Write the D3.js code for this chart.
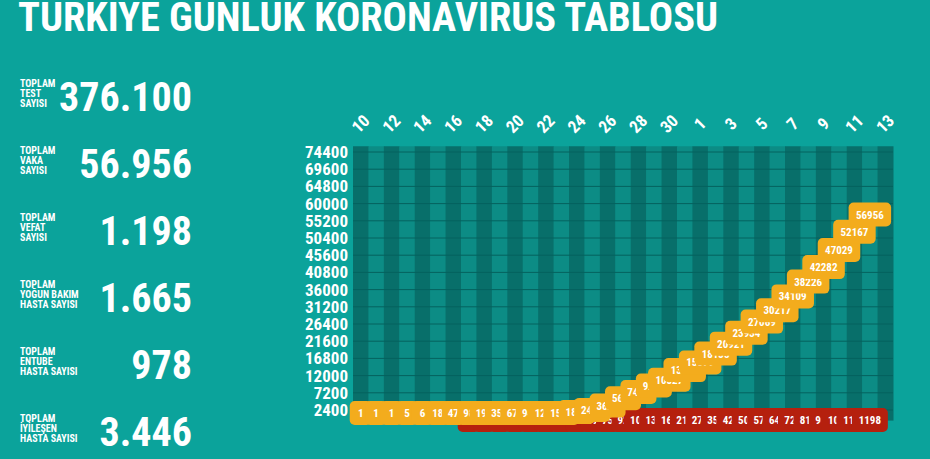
<!DOCTYPE html>
<html><head><meta charset="utf-8">
<script src="https://d3js.org/d3.v7.min.js"></script>
<style>
body{margin:0;background:#0ba39b;overflow:hidden}
text{font-family:"Liberation Sans Narrow","Roboto Condensed","DejaVu Sans Condensed",sans-serif;font-weight:bold;fill:#fff}
</style></head><body>
<svg id="c" width="930" height="459"></svg>
<script>
const dates = ["10","11","12","13","14","15","16","17","18","19","20","21","22","23","24","25","26","27","28","29","30","31","1","2","3","4","5","6","7","8","9","10","11","12","13"];
const cases = [1,1,1,5,6,18,47,98,191,359,670,947,1236,1529,1872,2433,3629,5698,7402,9217,10827,13531,15679,18135,20921,23934,27069,30217,34109,38226,42282,47029,52167,56956];
const deaths = [null,null,null,null,null,null,null,1,2,4,9,21,30,37,44,59,75,92,108,131,168,214,277,356,425,501,574,649,725,812,908,1006,1101,1198];
const yTicks = [2400,7200,12000,16800,21600,26400,31200,36000,40800,45600,50400,55200,60000,64800,69600,74400];
const statLabels = [["TOPLAM","TEST","SAYISI"],["TOPLAM","VAKA","SAYISI"],["TOPLAM","VEFAT","SAYISI"],["TOPLAM","YOĞUN BAKIM","HASTA SAYISI"],["TOPLAM","ENTUBE","HASTA SAYISI"],["TOPLAM","İYİLEŞEN","HASTA SAYISI"]];
const statValues = ["376.100","56.956","1.198","1.665","978","3.446"];

const svg = d3.select("#c");

// title
svg.append("text").attr("x",18).attr("y",31).attr("font-size",40).attr("textLength",700).attr("lengthAdjust","spacingAndGlyphs")
  .text("TURKIYE GUNLUK KORONAVIRUS TABLOSU");

// left stats
statValues.forEach((v,i)=>{
  const cy = 97 + i*67;
  svg.append("text").attr("x",192).attr("y",cy+14).attr("text-anchor","end").attr("font-size",40).text(v);
  statLabels[i].forEach((l,j)=>{
    svg.append("text").attr("x",20).attr("y",cy-10+j*10).attr("font-size",10).attr("font-weight","normal").text(l);
  });
});

// chart
const x = d3.scaleBand().domain(d3.range(dates.length)).range([353,893]);
const y = d3.scaleLinear().domain([0,74400]).range([418.6,152]);
const g = svg.append("g");
g.selectAll("rect.col").data(d3.range(dates.length)).join("rect")
  .attr("x",i=>x(i)).attr("width",x.bandwidth()+0.5).attr("y",y(76000)).attr("height",y(0)-y(76000)+2)
  .attr("fill",i=>i%2?"#0c8c85":"#086f6a");
g.selectAll("line.h").data(yTicks).join("line")
  .attr("x1",353).attr("x2",893).attr("y1",d=>y(d)).attr("y2",d=>y(d)).attr("stroke","#05625e").attr("stroke-width",1);
g.selectAll("text.yl").data(yTicks).join("text").attr("x",348).attr("y",d=>y(d)+6)
  .attr("text-anchor","end").attr("font-size",17).text(d=>d);
g.selectAll("text.xl").data(d3.range(0,dates.length,2)).join("text")
  .attr("transform",i=>`translate(${x(i)+x.bandwidth()/2+4},128) rotate(-45)`)
  .attr("text-anchor","middle").attr("font-size",17).text(i=>dates[i]);

function series(data, color, yfn){
  const pts = data.map((v,i)=>({v,i})).filter(d=>d.v!==null);
  const cx = d=>x(d.i)+x.bandwidth()/2;
  const w = d=>Math.max(22,10+6.5*String(d.v).length);
  g.append("path").datum(pts).attr("fill","none").attr("stroke",color).attr("stroke-width",16)
    .attr("stroke-linejoin","round").attr("d",d3.line().x(cx).y(yfn));
  const m = g.selectAll(null).data(pts).join("g");
  m.append("rect").attr("x",d=>cx(d)-w(d)/2).attr("y",d=>yfn(d)-12).attr("width",w).attr("height",24).attr("rx",5)
    .attr("fill",color);
  m.append("text").attr("x",cx).attr("y",d=>yfn(d)+4).attr("text-anchor","middle").attr("font-size",11)
    .text(d=>d.v);
}
series(deaths,"#b5200e",()=>420);
series(cases,"#f3ac1d",d=>Math.min(y(d.v),413));
</script>
</body></html>
